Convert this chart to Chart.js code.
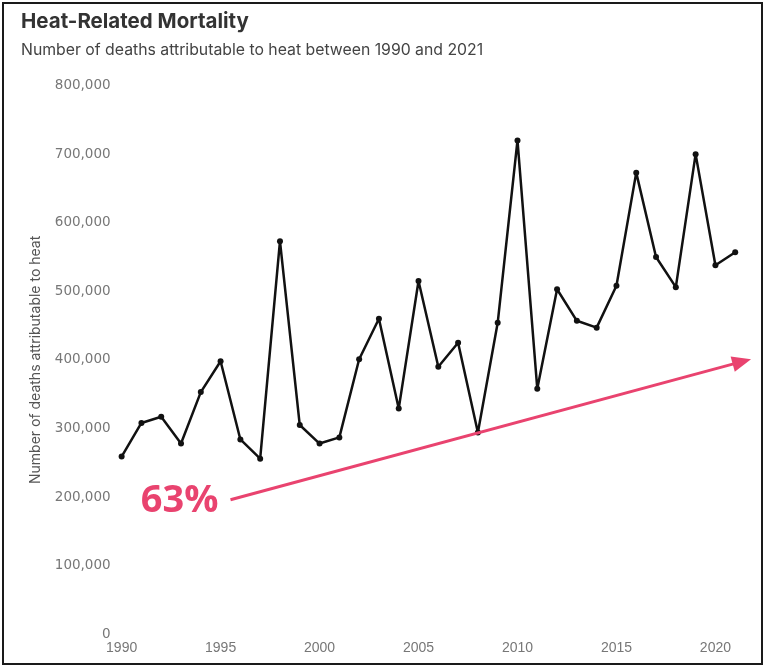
<!DOCTYPE html>
<html>
<head>
<meta charset="utf-8">
<script src="https://cdn.jsdelivr.net/npm/chart.js@4/dist/chart.umd.min.js"></script>
<style>
  html, body { margin: 0; background: #fff; }
  #frame {
    position: absolute; left: 2px; top: 2px;
    width: 761px; height: 663px;
    border: 2px solid #1a1a1a; box-sizing: border-box;
  }
  canvas { display: block; }
</style>
</head>
<body>
<div id="frame"><canvas id="heatChart" width="757" height="659"></canvas></div>
<script>
// Années et décès attribuables à la chaleur
const years = [1990, 1991, 1992, 1993, 1994, 1995, 1996, 1997, 1998, 1999,
               2000, 2001, 2002, 2003, 2004, 2005, 2006, 2007, 2008, 2009,
               2010, 2011, 2012, 2013, 2014, 2015, 2016, 2017, 2018, 2019,
               2020, 2021];
const deaths = [259000, 308000, 317000, 278000, 353000, 398000, 284000, 256000, 573000, 305000,
                278000, 287000, 401000, 460000, 329000, 515000, 390000, 425000, 294000, 454000,
                720000, 358000, 503000, 457000, 447000, 508000, 673000, 550000, 506000, 700000,
                538000, 557000];
const xTickYears = [1990, 1995, 2000, 2005, 2010, 2015, 2020];

// Flèche de tendance (coordonnées en année / décès)
const trendFrom = [1995.5, 196000];
const trendTo = [2021.8, 401000];
const trendLabel = '63%';

const PINK = '#e9436f';

const trendArrow = {
    id: 'trendArrow',
    afterDatasetsDraw(chart) {
        const { ctx, scales: { x, y } } = chart;
        const x1 = x.getPixelForValue(trendFrom[0]);
        const y1 = y.getPixelForValue(trendFrom[1]);
        const x2 = x.getPixelForValue(trendTo[0]);
        const y2 = y.getPixelForValue(trendTo[1]);
        const ang = Math.atan2(y2 - y1, x2 - x1);
        const headLen = 19, headW = 8;
        ctx.save();
        ctx.strokeStyle = PINK;
        ctx.fillStyle = PINK;
        ctx.lineWidth = 3;
        ctx.beginPath();
        ctx.moveTo(x1, y1);
        ctx.lineTo(x2 - Math.cos(ang) * headLen * 0.8, y2 - Math.sin(ang) * headLen * 0.8);
        ctx.stroke();
        // pointe
        ctx.beginPath();
        ctx.moveTo(x2, y2);
        ctx.lineTo(x2 - Math.cos(ang) * headLen - Math.sin(ang) * headW,
                   y2 - Math.sin(ang) * headLen + Math.cos(ang) * headW);
        ctx.lineTo(x2 - Math.cos(ang) * headLen + Math.sin(ang) * headW,
                   y2 - Math.sin(ang) * headLen - Math.cos(ang) * headW);
        ctx.closePath();
        ctx.fill();
        // libellé
        ctx.font = 'bold 38px "Open Sans", sans-serif';
        ctx.textAlign = 'right';
        ctx.textBaseline = 'middle';
        ctx.fillText(trendLabel, x1 - 12, y1 + 1);
        ctx.restore();
    }
};

new Chart(document.getElementById('heatChart'), {
    type: 'line',
    data: {
        datasets: [{
            label: 'Deaths',
            data: years.map((yr, i) => ({ x: yr, y: deaths[i] })),
            borderColor: '#111',
            backgroundColor: '#111',
            borderWidth: 2.5,
            borderJoinStyle: 'round',
            tension: 0,
            clip: false,
            pointRadius: 3,
            pointBackgroundColor: '#111',
            pointBorderWidth: 0
        }]
    },
    options: {
        responsive: false,
        animation: false,
        layout: { padding: { left: 17, right: 6, top: 0, bottom: 0 } },
        plugins: {
            legend: { display: false },
            tooltip: { enabled: false },
            title: {
                display: true,
                text: 'Heat-Related Mortality',
                align: 'start',
                color: '#333',
                font: { family: 'Inter', size: 20.5, weight: 'bold' },
                padding: { top: 6, bottom: 6 }
            },
            subtitle: {
                display: true,
                text: 'Number of deaths attributable to heat between 1990 and 2021',
                align: 'start',
                color: '#444',
                font: { family: 'Inter', size: 15.8 },
                padding: { bottom: 26 }
            }
        },
        scales: {
            x: {
                type: 'linear',
                min: 1990,
                max: 2022,
                afterBuildTicks: axis => { axis.ticks = xTickYears.map(v => ({ value: v })); },
                ticks: {
                    color: '#777',
                    padding: 6,
                    font: { family: 'Liberation Sans', size: 14 },
                    callback: v => String(v)
                },
                grid: { display: false, drawTicks: false },
                border: { display: false }
            },
            y: {
                min: 0,
                max: 800000,
                ticks: {
                    stepSize: 100000,
                    color: '#777',
                    padding: 11,
                    font: { family: 'DejaVu Sans', size: 13.5 },
                    callback: v => v.toLocaleString('en-US')
                },
                grid: { display: false, drawTicks: false },
                border: { display: false },
                title: {
                    display: true,
                    text: 'Number of deaths attributable to heat',
                    color: '#555',
                    font: { family: 'Inter', size: 14 },
                    padding: { top: 6, bottom: 0 }
                }
            }
        }
    },
    plugins: [trendArrow]
});
</script>
</body>
</html>
